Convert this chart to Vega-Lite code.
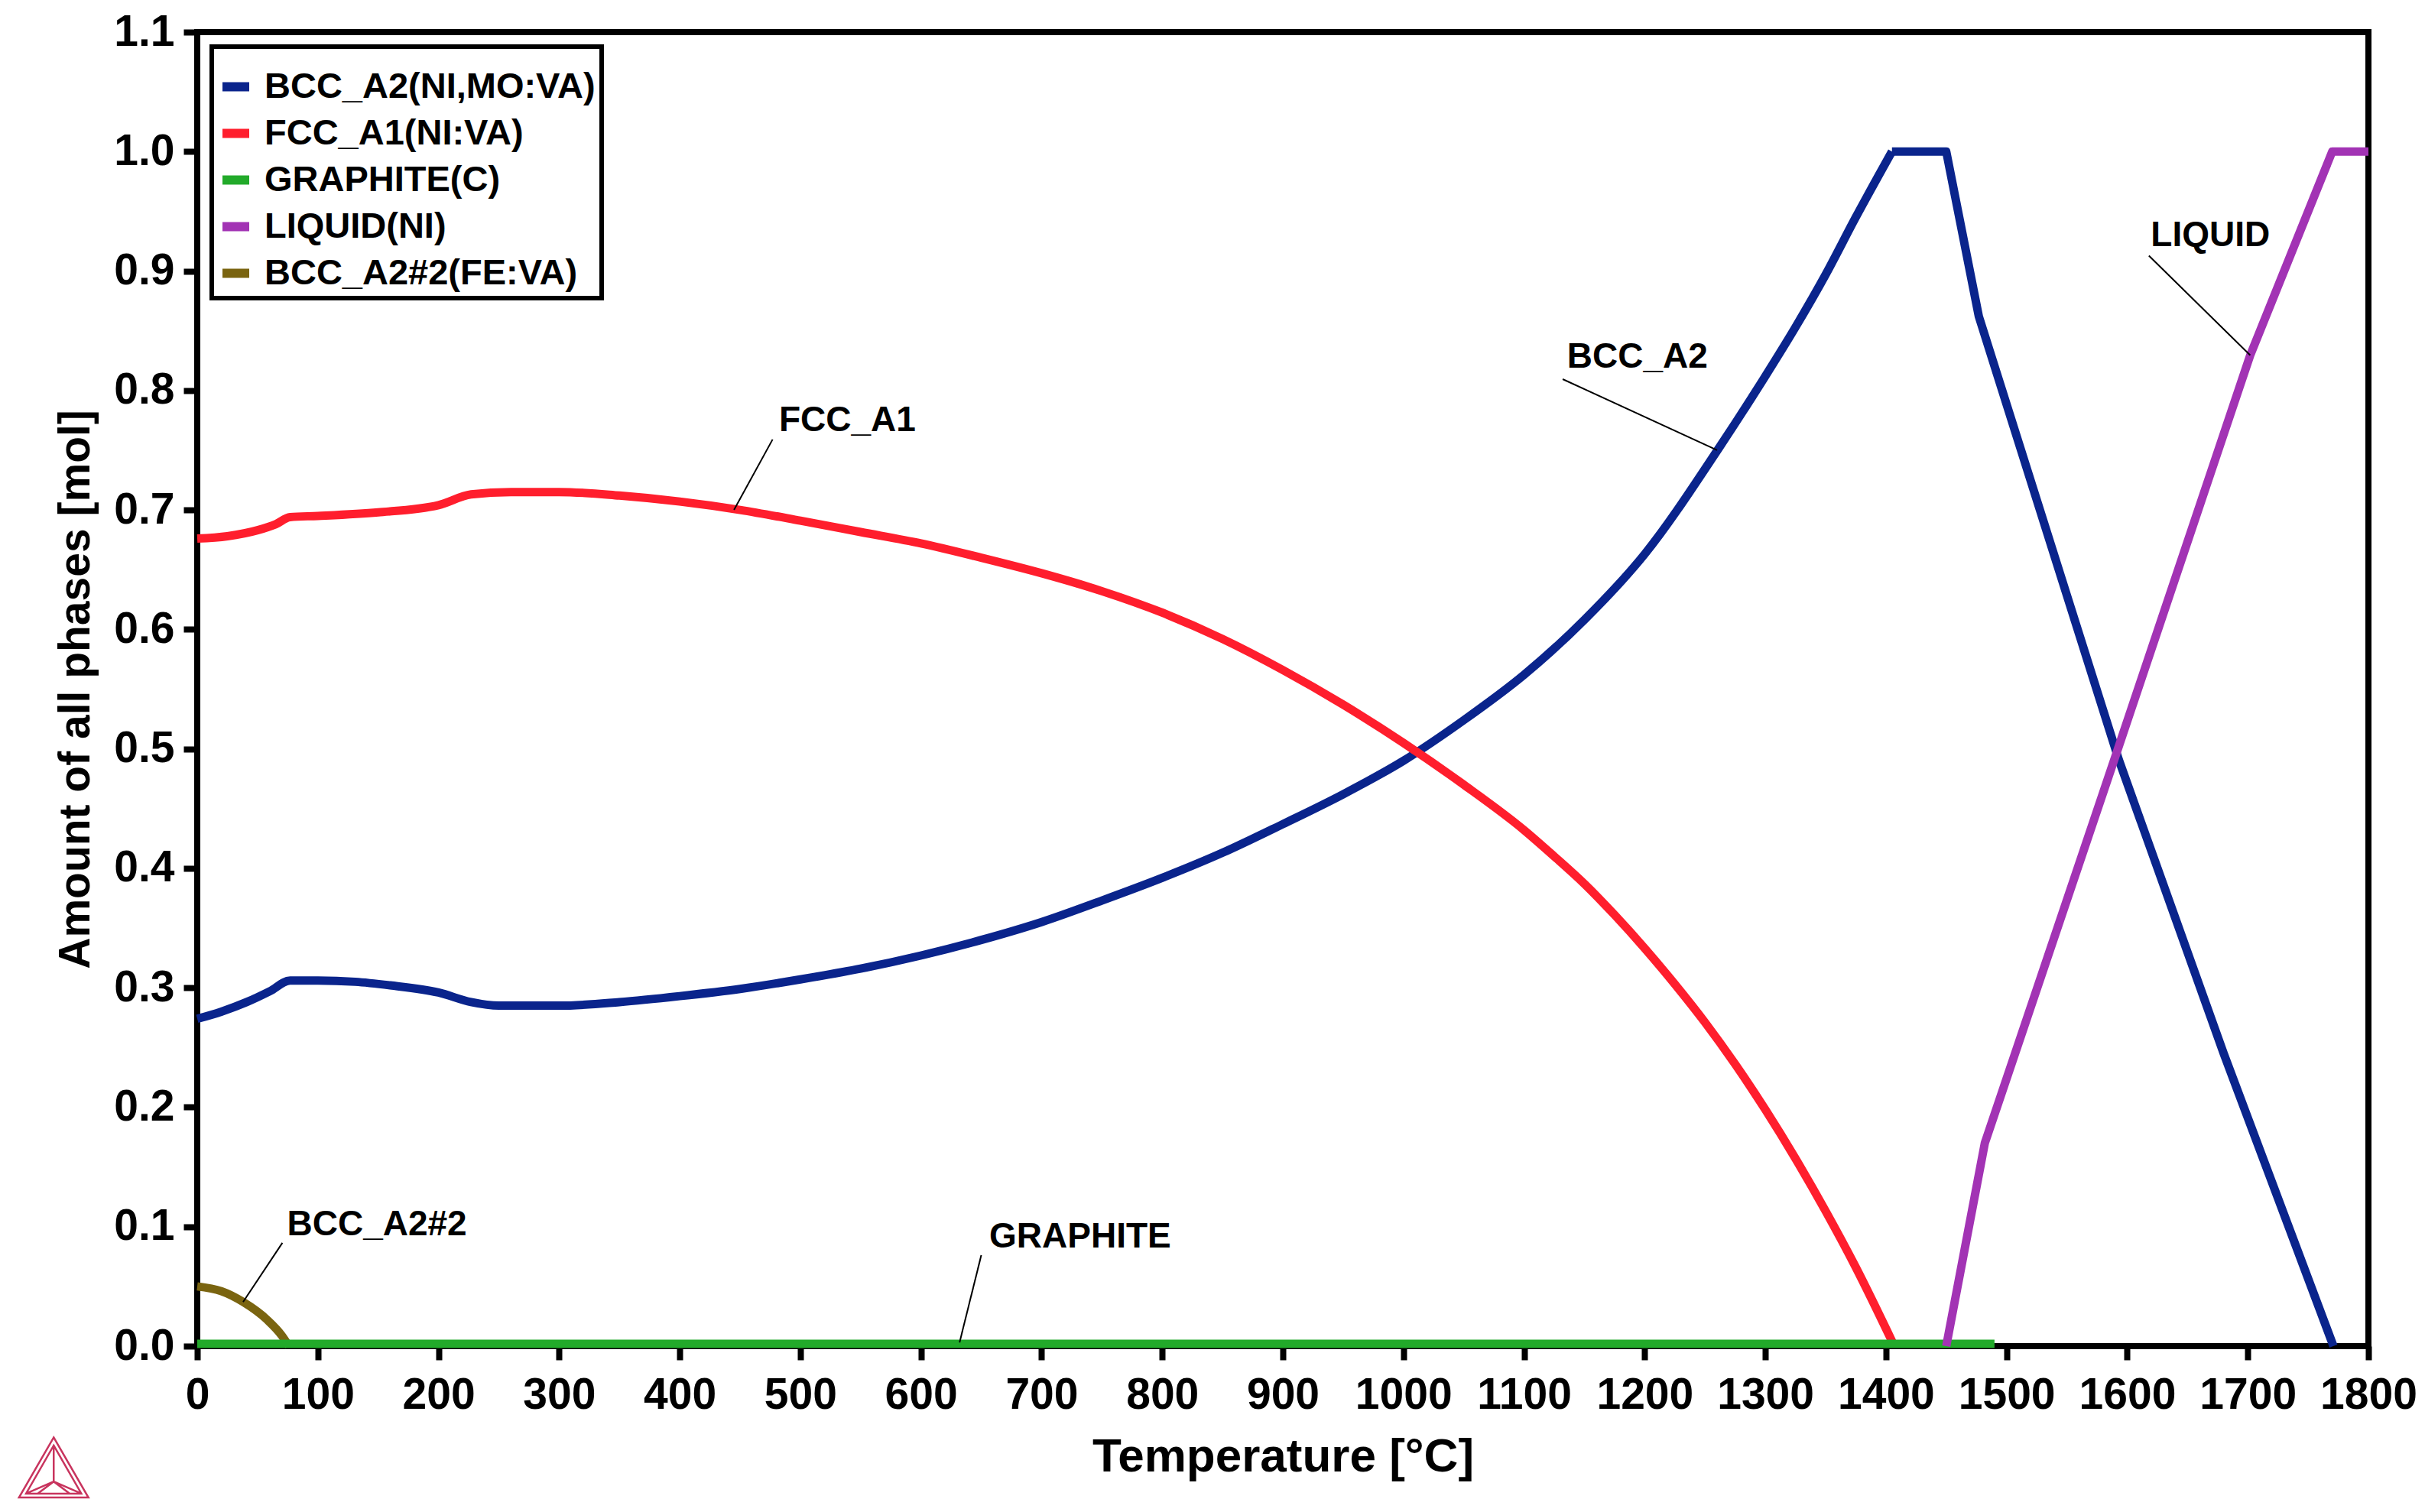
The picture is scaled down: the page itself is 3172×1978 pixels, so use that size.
{
  "$schema": "https://vega.github.io/schema/vega-lite/v6.json",
  "width": 2840,
  "height": 1719,
  "autosize": {"type": "none"},
  "padding": {"left": 258, "top": 42, "right": 74, "bottom": 217},
  "background": "white",
  "datasets": {
    "smooth": [
      {"T": 0, "v": 0.274, "phase": "BCC_A2(NI,MO:VA)"},
      {"T": 20, "v": 0.28, "phase": "BCC_A2(NI,MO:VA)"},
      {"T": 41, "v": 0.288, "phase": "BCC_A2(NI,MO:VA)"},
      {"T": 60, "v": 0.297, "phase": "BCC_A2(NI,MO:VA)"},
      {"T": 77, "v": 0.306, "phase": "BCC_A2(NI,MO:VA)"},
      {"T": 100, "v": 0.306, "phase": "BCC_A2(NI,MO:VA)"},
      {"T": 131, "v": 0.305, "phase": "BCC_A2(NI,MO:VA)"},
      {"T": 160, "v": 0.302, "phase": "BCC_A2(NI,MO:VA)"},
      {"T": 200, "v": 0.296, "phase": "BCC_A2(NI,MO:VA)"},
      {"T": 227, "v": 0.288, "phase": "BCC_A2(NI,MO:VA)"},
      {"T": 250, "v": 0.285, "phase": "BCC_A2(NI,MO:VA)"},
      {"T": 300, "v": 0.285, "phase": "BCC_A2(NI,MO:VA)"},
      {"T": 350, "v": 0.288, "phase": "BCC_A2(NI,MO:VA)"},
      {"T": 400, "v": 0.293, "phase": "BCC_A2(NI,MO:VA)"},
      {"T": 450, "v": 0.299, "phase": "BCC_A2(NI,MO:VA)"},
      {"T": 500, "v": 0.307, "phase": "BCC_A2(NI,MO:VA)"},
      {"T": 550, "v": 0.316, "phase": "BCC_A2(NI,MO:VA)"},
      {"T": 600, "v": 0.327, "phase": "BCC_A2(NI,MO:VA)"},
      {"T": 650, "v": 0.34, "phase": "BCC_A2(NI,MO:VA)"},
      {"T": 700, "v": 0.355, "phase": "BCC_A2(NI,MO:VA)"},
      {"T": 750, "v": 0.373, "phase": "BCC_A2(NI,MO:VA)"},
      {"T": 800, "v": 0.392, "phase": "BCC_A2(NI,MO:VA)"},
      {"T": 850, "v": 0.413, "phase": "BCC_A2(NI,MO:VA)"},
      {"T": 900, "v": 0.437, "phase": "BCC_A2(NI,MO:VA)"},
      {"T": 950, "v": 0.462, "phase": "BCC_A2(NI,MO:VA)"},
      {"T": 1000, "v": 0.49, "phase": "BCC_A2(NI,MO:VA)"},
      {"T": 1050, "v": 0.524, "phase": "BCC_A2(NI,MO:VA)"},
      {"T": 1100, "v": 0.562, "phase": "BCC_A2(NI,MO:VA)"},
      {"T": 1150, "v": 0.608, "phase": "BCC_A2(NI,MO:VA)"},
      {"T": 1200, "v": 0.663, "phase": "BCC_A2(NI,MO:VA)"},
      {"T": 1261, "v": 0.751, "phase": "BCC_A2(NI,MO:VA)"},
      {"T": 1300, "v": 0.812, "phase": "BCC_A2(NI,MO:VA)"},
      {"T": 1325, "v": 0.853, "phase": "BCC_A2(NI,MO:VA)"},
      {"T": 1350, "v": 0.897, "phase": "BCC_A2(NI,MO:VA)"},
      {"T": 1375, "v": 0.945, "phase": "BCC_A2(NI,MO:VA)"},
      {"T": 1405, "v": 1.0, "phase": "BCC_A2(NI,MO:VA)"},

      {"T": 0, "v": 0.676, "phase": "FCC_A1(NI:VA)"},
      {"T": 25, "v": 0.678, "phase": "FCC_A1(NI:VA)"},
      {"T": 50, "v": 0.683, "phase": "FCC_A1(NI:VA)"},
      {"T": 65, "v": 0.688, "phase": "FCC_A1(NI:VA)"},
      {"T": 77, "v": 0.694, "phase": "FCC_A1(NI:VA)"},
      {"T": 100, "v": 0.695, "phase": "FCC_A1(NI:VA)"},
      {"T": 150, "v": 0.698, "phase": "FCC_A1(NI:VA)"},
      {"T": 200, "v": 0.704, "phase": "FCC_A1(NI:VA)"},
      {"T": 227, "v": 0.713, "phase": "FCC_A1(NI:VA)"},
      {"T": 260, "v": 0.715, "phase": "FCC_A1(NI:VA)"},
      {"T": 300, "v": 0.715, "phase": "FCC_A1(NI:VA)"},
      {"T": 350, "v": 0.712, "phase": "FCC_A1(NI:VA)"},
      {"T": 400, "v": 0.707, "phase": "FCC_A1(NI:VA)"},
      {"T": 450, "v": 0.7, "phase": "FCC_A1(NI:VA)"},
      {"T": 500, "v": 0.691, "phase": "FCC_A1(NI:VA)"},
      {"T": 550, "v": 0.6815, "phase": "FCC_A1(NI:VA)"},
      {"T": 600, "v": 0.672, "phase": "FCC_A1(NI:VA)"},
      {"T": 650, "v": 0.66, "phase": "FCC_A1(NI:VA)"},
      {"T": 700, "v": 0.647, "phase": "FCC_A1(NI:VA)"},
      {"T": 750, "v": 0.632, "phase": "FCC_A1(NI:VA)"},
      {"T": 800, "v": 0.614, "phase": "FCC_A1(NI:VA)"},
      {"T": 850, "v": 0.592, "phase": "FCC_A1(NI:VA)"},
      {"T": 900, "v": 0.566, "phase": "FCC_A1(NI:VA)"},
      {"T": 950, "v": 0.537, "phase": "FCC_A1(NI:VA)"},
      {"T": 1000, "v": 0.505, "phase": "FCC_A1(NI:VA)"},
      {"T": 1050, "v": 0.47, "phase": "FCC_A1(NI:VA)"},
      {"T": 1100, "v": 0.432, "phase": "FCC_A1(NI:VA)"},
      {"T": 1125, "v": 0.41, "phase": "FCC_A1(NI:VA)"},
      {"T": 1150, "v": 0.387, "phase": "FCC_A1(NI:VA)"},
      {"T": 1175, "v": 0.361, "phase": "FCC_A1(NI:VA)"},
      {"T": 1200, "v": 0.333, "phase": "FCC_A1(NI:VA)"},
      {"T": 1225, "v": 0.303, "phase": "FCC_A1(NI:VA)"},
      {"T": 1250, "v": 0.271, "phase": "FCC_A1(NI:VA)"},
      {"T": 1275, "v": 0.236, "phase": "FCC_A1(NI:VA)"},
      {"T": 1300, "v": 0.198, "phase": "FCC_A1(NI:VA)"},
      {"T": 1325, "v": 0.157, "phase": "FCC_A1(NI:VA)"},
      {"T": 1350, "v": 0.113, "phase": "FCC_A1(NI:VA)"},
      {"T": 1375, "v": 0.066, "phase": "FCC_A1(NI:VA)"},
      {"T": 1407, "v": 0.0, "phase": "FCC_A1(NI:VA)"},

      {"T": 0, "v": 0.05, "phase": "BCC_A2#2(FE:VA)"},
      {"T": 20, "v": 0.046, "phase": "BCC_A2#2(FE:VA)"},
      {"T": 38, "v": 0.037, "phase": "BCC_A2#2(FE:VA)"},
      {"T": 58, "v": 0.022, "phase": "BCC_A2#2(FE:VA)"},
      {"T": 70, "v": 0.009, "phase": "BCC_A2#2(FE:VA)"},
      {"T": 76, "v": 0.0, "phase": "BCC_A2#2(FE:VA)"}
    ],
    "straight": [
      {"T": 1405, "v": 1.0, "phase": "BCC_A2(NI,MO:VA)"},
      {"T": 1450, "v": 1.0, "phase": "BCC_A2(NI,MO:VA)"},
      {"T": 1477, "v": 0.862, "phase": "BCC_A2(NI,MO:VA)"},
      {"T": 1593, "v": 0.491, "phase": "BCC_A2(NI,MO:VA)"},
      {"T": 1680, "v": 0.245, "phase": "BCC_A2(NI,MO:VA)"},
      {"T": 1771, "v": 0.0, "phase": "BCC_A2(NI,MO:VA)"},

      {"T": 0, "v": 0.002, "phase": "GRAPHITE(C)"},
      {"T": 1490, "v": 0.002, "phase": "GRAPHITE(C)"},

      {"T": 1450, "v": 0.0, "phase": "LIQUID(NI)"},
      {"T": 1482, "v": 0.17, "phase": "LIQUID(NI)"},
      {"T": 1593, "v": 0.502, "phase": "LIQUID(NI)"},
      {"T": 1702, "v": 0.8295, "phase": "LIQUID(NI)"},
      {"T": 1770, "v": 1.0, "phase": "LIQUID(NI)"},
      {"T": 1800, "v": 1.0, "phase": "LIQUID(NI)"}
    ],
    "labels": [
      {"label": "FCC_A1", "T": 539, "v": 0.775, "T1": 477, "v1": 0.759, "T2": 445, "v2": 0.7},
      {"label": "BCC_A2", "T": 1194, "v": 0.828, "T1": 1132, "v1": 0.8095, "T2": 1260, "v2": 0.75},
      {"label": "LIQUID", "T": 1669, "v": 0.9296, "T1": 1618, "v1": 0.9128, "T2": 1702, "v2": 0.8295},
      {"label": "BCC_A2#2", "T": 149, "v": 0.102, "T1": 70.6, "v1": 0.0865, "T2": 38, "v2": 0.037},
      {"label": "GRAPHITE", "T": 732, "v": 0.0917, "T1": 650, "v1": 0.0762, "T2": 632, "v2": 0.003}
    ],
    "logo": [
      {"T": -119, "v": -0.11}
    ]
  },
  "layer": [
    {
      "data": {"name": "smooth"},
      "mark": {"type": "line", "strokeWidth": 11, "strokeJoin": "round", "interpolate": "monotone"},
      "encoding": {
        "x": {
          "field": "T",
          "type": "quantitative",
          "scale": {"domain": [0, 1800], "nice": false, "zero": false},
          "axis": {
            "title": "Temperature [°C]",
            "values": [0, 100, 200, 300, 400, 500, 600, 700, 800, 900, 1000, 1100, 1200, 1300, 1400, 1500, 1600, 1700, 1800],
            "format": "d",
            "labelPadding": 18,
            "titlePadding": 22,
            "labelOverlap": false,
            "labelFlush": false
          }
        },
        "y": {
          "field": "v",
          "type": "quantitative",
          "scale": {"domain": [0, 1.1], "nice": false},
          "axis": {
            "title": "Amount of all phases [mol]",
            "values": [0, 0.1, 0.2, 0.3, 0.4, 0.5, 0.6, 0.7, 0.8, 0.9, 1.0, 1.1],
            "format": ".1f",
            "labelPadding": 12,
            "titlePadding": 20,
            "titleFontSize": 57,
            "labelOverlap": false,
            "labelFlush": false
          }
        },
        "color": {
          "field": "phase",
          "type": "nominal",
          "sort": null,
          "scale": {
            "domain": ["BCC_A2(NI,MO:VA)", "FCC_A1(NI:VA)", "GRAPHITE(C)", "LIQUID(NI)", "BCC_A2#2(FE:VA)"],
            "range": ["#0a248c", "#ff1e2d", "#22aa2a", "#a233b4", "#7a6410"]
          },
          "legend": {"title": " ", "orient": "top-left", "offset": 19}
        }
      }
    },
    {
      "data": {"name": "straight"},
      "mark": {"type": "line", "strokeWidth": 11, "strokeJoin": "round"},
      "encoding": {
        "x": {"field": "T", "type": "quantitative"},
        "y": {"field": "v", "type": "quantitative"},
        "color": {"field": "phase", "type": "nominal", "sort": null}
      }
    },
    {
      "data": {"name": "labels"},
      "mark": {"type": "rule", "color": "black", "strokeWidth": 2},
      "encoding": {
        "x": {"field": "T1", "type": "quantitative"},
        "y": {"field": "v1", "type": "quantitative"},
        "x2": {"field": "T2"},
        "y2": {"field": "v2"}
      }
    },
    {
      "data": {"name": "labels"},
      "mark": {
        "type": "text",
        "font": "Liberation Sans",
        "fontWeight": "bold",
        "fontSize": 46,
        "color": "black",
        "align": "center",
        "baseline": "middle"
      },
      "encoding": {
        "x": {"field": "T", "type": "quantitative"},
        "y": {"field": "v", "type": "quantitative"},
        "text": {"field": "label", "type": "nominal"}
      }
    },
    {
      "data": {"name": "logo"},
      "mark": {
        "type": "point",
        "shape": "M0,-1L0.866,0.5L-0.866,0.5Z M0,-0.8L0.69,0.4L-0.69,0.4Z M0,-0.8L0,0.1 M0.69,0.4L0,0.1 M-0.69,0.4L0,0.1 M-0.4,0.4L0,0.1L0.4,0.4",
        "filled": false,
        "color": "#c8345e",
        "strokeWidth": 2.5,
        "size": 11000,
        "opacity": 1
      },
      "encoding": {
        "x": {"field": "T", "type": "quantitative"},
        "y": {"field": "v", "type": "quantitative"}
      }
    }
  ],
  "config": {
    "view": {"stroke": "black", "strokeWidth": 8},
    "font": "Liberation Sans",
    "axis": {
      "domain": false,
      "grid": false,
      "ticks": true,
      "tickColor": "black",
      "tickWidth": 8,
      "tickSize": 18,
      "labelFont": "Liberation Sans",
      "labelFontWeight": "bold",
      "labelFontSize": 57,
      "labelColor": "black",
      "titleFont": "Liberation Sans",
      "titleFontWeight": "bold",
      "titleFontSize": 62,
      "titleColor": "black"
    },
    "legend": {
      "strokeColor": "black",
      "strokeWidth": 6,
      "fillColor": "white",
      "padding": 8,
      "titleFontSize": 2,
      "titlePadding": 19,
      "symbolType": "stroke",
      "symbolStrokeWidth": 12,
      "symbolSize": 1225,
      "labelFont": "Liberation Sans",
      "labelFontWeight": "bold",
      "labelFontSize": 47,
      "labelColor": "black",
      "labelOffset": 14,
      "rowPadding": 12,
      "labelLimit": 1000
    }
  }
}
